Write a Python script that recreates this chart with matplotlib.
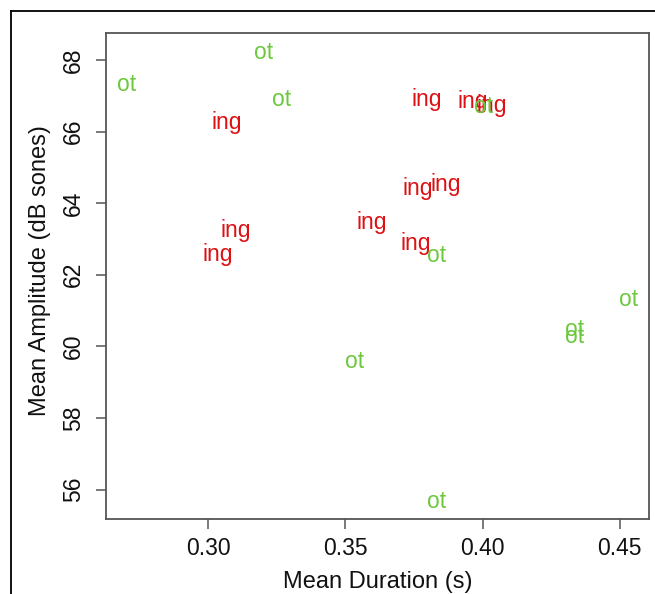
import matplotlib
matplotlib.use("Agg")
import matplotlib.pyplot as plt
from matplotlib.lines import Line2D

plt.rcParams["font.family"] = ["Liberation Sans", "DejaVu Sans"]

# mean duration (s) and mean amplitude (dB sones) per token
ing_dur = [0.3798, 0.3965, 0.4035, 0.3765, 0.3867, 0.3597, 0.3757, 0.3067, 0.3100, 0.3034]
ing_amp = [66.88, 66.85, 66.72, 64.40, 64.51, 63.47, 62.86, 66.24, 63.25, 62.58]
ot_dur = [0.2701, 0.3201, 0.3268, 0.4002, 0.3834, 0.4334, 0.4334, 0.3533, 0.3834, 0.4534]
ot_amp = [67.30, 68.20, 66.88, 66.69, 62.53, 60.46, 60.29, 59.57, 55.66, 61.30]

xticks = [0.30, 0.35, 0.40, 0.45]
yticks = [56, 58, 60, 62, 64, 66, 68]

red = "#DD1114"
green = "#6CC93E"
fs = 16.5

fig = plt.figure(figsize=(6.55, 5.94), dpi=100)
ax = fig.add_axes([106 / 655, 1 - 518.7 / 594, 543 / 655, 485.7 / 594])

for x, y in zip(ing_dur, ing_amp):
    ax.text(x, y, "ing", color=red, fontsize=fs, ha="center", va="center")
for x, y in zip(ot_dur, ot_amp):
    ax.text(x, y, "ot", color=green, fontsize=fs, ha="center", va="center")

ax.set_xlim(0.2627, 0.4607)
ax.set_ylim(55.19, 68.75)
ax.set_xticks(xticks)
ax.set_xticklabels([f"{t:.2f}" for t in xticks])
ax.set_yticks(yticks)
ax.set_yticklabels([str(t) for t in yticks], rotation=90, va="center")

for s in ax.spines.values():
    s.set_color("#555555")
    s.set_linewidth(1.3)
ax.tick_params(length=7, width=1.1, color="#555555", labelsize=fs, labelcolor="#111111")
ax.tick_params(axis="x", pad=6)
ax.tick_params(axis="y", pad=8)

ax.set_xlabel("Mean Duration (s)", fontsize=17, color="#111111")
ax.set_ylabel("Mean Amplitude (dB sones)", fontsize=17, color="#111111")
ax.xaxis.set_label_coords(0.5, -0.108)
ax.yaxis.set_label_coords(-0.102, 0.51)

# outer frame of the original figure (cropped)
fig.add_artist(Line2D([11 / 655, 1], [1 - 11 / 594] * 2, color="black", lw=1.3, transform=fig.transFigure))
fig.add_artist(Line2D([11 / 655] * 2, [0, 1 - 11 / 594], color="black", lw=1.3, transform=fig.transFigure))

fig.savefig("out.png", dpi=100)
